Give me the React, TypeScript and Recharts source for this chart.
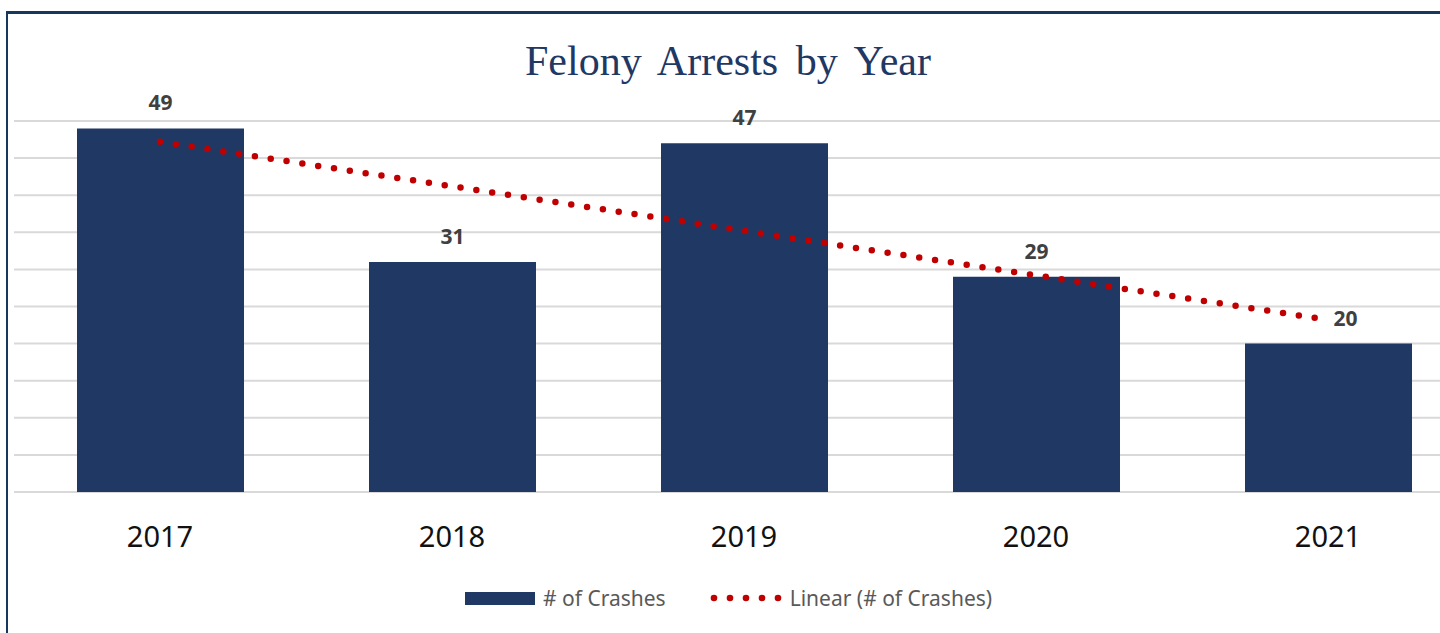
import React from "react";
import { ComposedChart, Bar, Line, XAxis, YAxis, CartesianGrid, LabelList } from "recharts";

const years = ["2017", "2018", "2019", "2020", "2021"];
const crashes = [49, 31, 47, 29, 20];
const linearTrend = [47.2, 41.2, 35.2, 29.2, 23.2];
const yTicks = [0, 5, 10, 15, 20, 25, 30, 35, 40, 45, 50];

const data = years.map((year, i) => ({ year, crashes: crashes[i], trend: linearTrend[i] }));

const BAR = "#203864";
const RED = "#c00000";
const FONT = "'Noto Sans', 'Open Sans', sans-serif";

const renderLabel = (props: any) => {
  const { x, y, width, value, index } = props;
  const shift = index === years.length - 1 ? 17 : 0;
  return (
    <text
      x={Number(x) + Number(width) / 2 + shift}
      y={Number(y) - 18}
      textAnchor="middle"
      fontFamily={FONT}
      fontWeight={700}
      fontSize={21}
      fill="#404040"
    >
      {value}
    </text>
  );
};

export default function App() {
  return (
    <div
      style={{
        position: "absolute",
        left: 0,
        top: 0,
        width: 1440,
        height: 633,
        overflow: "hidden",
        background: "#fff",
      }}
    >
      <div
        style={{
          position: "absolute",
          left: 6,
          top: 11,
          width: 1600,
          height: 800,
          borderLeft: "2px solid #17375e",
          borderTop: "3px solid #17375e",
          boxSizing: "border-box",
        }}
      />
      <div
        style={{
          position: "absolute",
          left: 0,
          width: 1456,
          textAlign: "center",
          top: 36,
          fontFamily: "'Liberation Serif', 'Times New Roman', serif",
          fontSize: 42,
          color: "#1f3864",
          wordSpacing: 7,
          lineHeight: "50px",
        }}
      >
        Felony Arrests by Year
      </div>
      <div style={{ position: "absolute", left: 0, top: 0 }}>
        <ComposedChart
          width={1480}
          height={633}
          data={data}
          margin={{ top: 121, right: 6, left: 14, bottom: 81 }}
        >
          <CartesianGrid vertical={false} stroke="#d9d9d9" strokeWidth={2} />
          <XAxis
            dataKey="year"
            axisLine={false}
            tickLine={false}
            tickSize={0}
            tickMargin={34}
            height={60}
            interval={0}
            tick={{ fontFamily: FONT, fontSize: 29, fill: "#111" }}
          />
          <YAxis hide domain={[0, 50]} ticks={yTicks} />
          <Bar dataKey="crashes" fill={BAR} barSize={167} isAnimationActive={false}>
            <LabelList dataKey="crashes" content={renderLabel} />
          </Bar>
          <Line
            dataKey="trend"
            type="linear"
            stroke={RED}
            strokeWidth={6.5}
            strokeDasharray="0 16"
            strokeLinecap="round"
            dot={false}
            activeDot={false}
            isAnimationActive={false}
          />
        </ComposedChart>
      </div>
      <div
        style={{
          position: "absolute",
          left: 465,
          top: 584,
          display: "flex",
          alignItems: "center",
          fontFamily: FONT,
          fontSize: 21,
          color: "#595959",
          whiteSpace: "nowrap",
          height: 28,
        }}
      >
        <span style={{ display: "inline-block", width: 70, height: 13, background: BAR, marginRight: 8 }} />
        <span>{"# of Crashes"}</span>
        <svg width={72} height={14} style={{ marginLeft: 44, marginRight: 8 }}>
          {[0, 1, 2, 3, 4].map((i) => (
            <circle key={i} cx={4 + i * 16} cy={7} r={3.3} fill={RED} />
          ))}
        </svg>
        <span>{"Linear (# of Crashes)"}</span>
      </div>
    </div>
  );
}
